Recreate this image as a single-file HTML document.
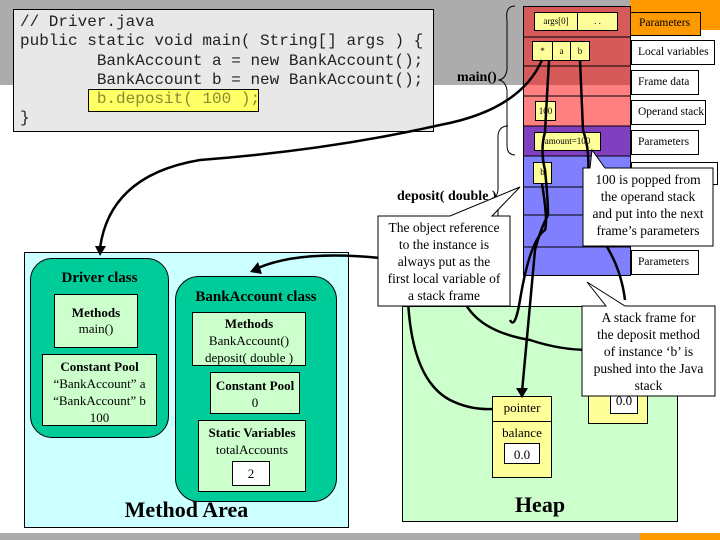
<!DOCTYPE html>
<html><head><meta charset="utf-8"><style>
body{margin:0;width:720px;height:540px;position:relative;overflow:hidden;background:#fff;font-family:"Liberation Serif",serif}
.a{position:absolute;box-sizing:border-box}
.c{text-align:center}
.y{background:#ffff99;border:1px solid #000}
.lb{background:#fff;border:1px solid #000;font-size:11.5px;padding:3px 0 0 6px;white-space:nowrap}
.g{background:#ccffcc;border:1px solid #000}
</style></head><body>
<div class="a" style="left:0;top:0;width:630px;height:85px;background:#acacac"></div>
<div class="a" style="left:630px;top:0;width:90px;height:30px;background:#ff9900"></div>
<div class="a" style="left:0;top:533px;width:640px;height:7px;background:#acacac"></div>
<div class="a" style="left:640px;top:533px;width:80px;height:7px;background:#ff9900"></div>

<!-- code -->
<div class="a" style="left:13px;top:9px;width:421px;height:123px;background:#e8e8e8;border:1px solid #000"></div>
<div class="a" style="left:88px;top:89px;width:171px;height:23px;background:#ffff66;border:1px solid #000"></div>
<pre class="a" style="left:20px;top:13px;margin:0;font:16px/19.3px 'Liberation Mono',monospace;color:#222">// Driver.java
public static void main( String[] args ) {
        BankAccount a = new BankAccount();
        BankAccount b = new BankAccount();
        <span style="color:#8a8a30">b.deposit( 100 );</span>
}</pre>

<!-- method area -->
<div class="a" style="left:24px;top:252px;width:325px;height:276px;background:#ccffff;border:1px solid #000"></div>
<div class="a" style="left:30px;top:258px;width:139px;height:180px;background:#00cc99;border:1px solid #000;border-radius:22px"></div>
<div class="a c" style="left:30px;top:270px;width:139px;font-weight:bold;font-size:15px">Driver class</div>
<div class="a c g" style="left:54px;top:294px;width:84px;height:54px;font-size:13px;padding-top:10px"><b>Methods</b><br>main()</div>
<div class="a c g" style="left:42px;top:354px;width:115px;height:72px;font-size:13px;line-height:17px;padding-top:3px"><b>Constant Pool</b><br>“BankAccount” a<br>“BankAccount” b<br>100</div>
<div class="a" style="left:175px;top:276px;width:162px;height:226px;background:#00cc99;border:1px solid #000;border-radius:24px"></div>
<div class="a c" style="left:175px;top:289px;width:162px;font-weight:bold;font-size:15px">BankAccount class</div>
<div class="a c g" style="left:192px;top:312px;width:114px;height:54px;font-size:13px;line-height:17px;padding-top:2px"><b>Methods</b><br>BankAccount()<br>deposit( double )</div>
<div class="a c g" style="left:210px;top:372px;width:90px;height:42px;font-size:13px;line-height:17px;padding-top:4px"><b>Constant Pool</b><br>0</div>
<div class="a c g" style="left:198px;top:420px;width:108px;height:72px;font-size:13px;line-height:17px;padding-top:3px"><b>Static Variables</b><br>totalAccounts</div>
<div class="a c" style="left:232px;top:461px;width:38px;height:25px;background:#fff;border:1px solid #000;font-size:13px;padding-top:4px">2</div>
<div class="a c" style="left:24px;top:497px;width:325px;font-size:22px;font-weight:bold">Method Area</div>

<!-- heap -->
<div class="a" style="left:402px;top:306px;width:276px;height:216px;background:#ccffcc;border:1px solid #000"></div>
<div class="a" style="left:588px;top:370px;width:60px;height:54px;background:#ffff99;border:1px solid #000"></div>
<div class="a c" style="left:610px;top:387px;width:28px;height:27px;background:#fff;border:1px solid #000;font-size:13px;padding-top:5px">0.0</div>
<div class="a" style="left:492px;top:396px;width:60px;height:82px;background:#ffff99;border:1px solid #000"></div>
<div class="a" style="left:492px;top:421px;width:60px;height:1px;background:#000"></div>
<div class="a c" style="left:492px;top:400px;width:60px;font-size:13px">pointer</div>
<div class="a c" style="left:492px;top:425px;width:60px;font-size:13px">balance</div>
<div class="a c" style="left:504px;top:443px;width:36px;height:21px;background:#fff;border:1px solid #000;font-size:13px;padding-top:3px">0.0</div>
<div class="a c" style="left:402px;top:492px;width:276px;font-size:22px;font-weight:bold">Heap</div>

<!-- stack -->
<div class="a" style="left:523px;top:6px;width:108px;height:79px;background:#d65a5a"></div>
<div class="a" style="left:523px;top:85px;width:108px;height:41px;background:#ff8080"></div>
<div class="a" style="left:523px;top:126px;width:108px;height:30px;background:#7f3fbf"></div>
<div class="a" style="left:523px;top:156px;width:108px;height:120px;background:#8080ff"></div>
<div class="a" style="left:523px;top:6px;width:108px;height:270px;border:1px solid #000"></div>
<svg class="a" style="left:0;top:0" width="720" height="540">
<g stroke="#000" stroke-width="1">
<line x1="523" y1="37" x2="631" y2="37"/><line x1="523" y1="66" x2="631" y2="66"/>
<line x1="523" y1="96" x2="631" y2="96"/><line x1="523" y1="126" x2="631" y2="126"/>
<line x1="523" y1="156" x2="631" y2="156"/><line x1="523" y1="187" x2="631" y2="187"/>
<line x1="523" y1="215" x2="631" y2="215"/><line x1="523" y1="247" x2="631" y2="247"/>
</g>
<g fill="none" stroke="#000" stroke-width="1">
<path d="M515 6 Q505 6 507 20 L507 70 Q505 80 498 80 Q505 80 507 90 L507 145 Q507 155 515 155"/>
<path d="M508 126 Q497 126 498 140 L498 190 Q497 198 492 198 Q497 198 498 206 L498 265 Q497 275 505 276"/>
</g>
</svg>
<div class="a" style="left:630px;top:12px;width:71px;height:24px;background:#ff9900;border:1px solid #000;font-size:11.5px;padding:4px 0 0 8px">Parameters</div>
<div class="a lb" style="left:631px;top:40px;width:84px;height:25px;padding-top:5px">Local variables</div>
<div class="a lb" style="left:631px;top:70px;width:68px;height:25px;padding-top:5px">Frame data</div>
<div class="a lb" style="left:631px;top:100px;width:75px;height:25px;padding-top:5px">Operand stack</div>
<div class="a lb" style="left:631px;top:130px;width:68px;height:25px;padding-top:5px">Parameters</div>
<div class="a lb" style="left:631px;top:162px;width:87px;height:23px"></div>
<div class="a lb" style="left:631px;top:250px;width:68px;height:25px;padding-top:5px">Parameters</div>

<div class="a y c" style="left:534px;top:12px;width:44px;height:19px;font-size:9px;padding-top:3px">args[0]</div>
<div class="a y c" style="left:577px;top:12px;width:41px;height:19px;font-size:9px;padding-top:3px">. .</div>
<div class="a y c" style="left:532px;top:41px;width:21px;height:20px;font-size:9px;padding-top:4px">*</div>
<div class="a y c" style="left:552px;top:41px;width:19px;height:20px;font-size:9px;padding-top:4px">a</div>
<div class="a y c" style="left:570px;top:41px;width:20px;height:20px;font-size:9px;padding-top:4px">b</div>
<div class="a y c" style="left:535px;top:101px;width:21px;height:20px;font-size:9px;padding-top:4px">100</div>
<div class="a y c" style="left:534px;top:132px;width:67px;height:19px;font-size:9px;padding-top:3px">amount=100</div>
<div class="a y c" style="left:533px;top:162px;width:19px;height:22px;font-size:9px;padding-top:4px">b</div>

<div class="a" style="left:457px;top:70px;font-weight:bold;font-size:14px">main()</div>
<div class="a" style="left:397px;top:189px;font-weight:bold;font-size:14px">deposit( double )</div>

<!-- connectors -->
<svg class="a" style="left:0;top:0" width="720" height="540">
<g fill="none" stroke="#000" stroke-width="2.5">
<path d="M542 60 Q520 110 440 125 Q330 150 200 160 Q110 175 100 248"/>
<path d="M549 60 L545 132 Q540 150 545 170 Q548 200 548 215 Q540 230 535 250 L522 392"/>
<path d="M580 60 L583 130 Q590 150 588 175 Q590 200 595 230 Q620 260 625 300"/>
<path d="M542 184 Q548 220 545 230 Q530 240 520 300 Q515 330 510 320"/>
<path d="M380 258 Q300 250 258 268"/>
<path d="M380 270 Q410 270 408 300 Q412 380 450 400 Q470 410 492 409"/>
<path d="M460 290 Q470 330 530 340 Q560 350 590 350"/>
</g>
<g fill="#000">
<polygon points="95,246 106,246 100,256"/>
<polygon points="258,262 262,274 250,272"/>
<polygon points="516,388 528,388 522,398"/>
</g>
</svg>

<!-- callouts -->
<svg class="a" style="left:0;top:0" width="720" height="540">
<g fill="#fff" stroke="#000" stroke-width="1">
<polygon points="583,168 590,168 592,150 605,168 713,168 713,246 583,246"/>
<polygon points="378,216 450,216 520,187 492,216 510,216 510,306 378,306"/>
<polygon points="582,306 606,306 587,282 625,306 715,306 715,396 582,396"/>
</g>
</svg>
<div class="a c" style="left:583px;top:171px;width:130px;font-size:13.5px;line-height:17px;white-space:nowrap">100 is popped from<br>the operand stack<br>and put into the next<br>frame’s parameters</div>
<div class="a c" style="left:378px;top:219px;width:132px;font-size:13.5px;line-height:17px;white-space:nowrap">The object reference<br>to the instance is<br>always put as the<br>first local variable of<br>a stack frame</div>
<div class="a c" style="left:582px;top:309px;width:133px;font-size:13.5px;line-height:17px;white-space:nowrap">A stack frame for<br>the deposit method<br>of instance ‘b’ is<br>pushed into the Java<br>stack</div>
</body></html>
